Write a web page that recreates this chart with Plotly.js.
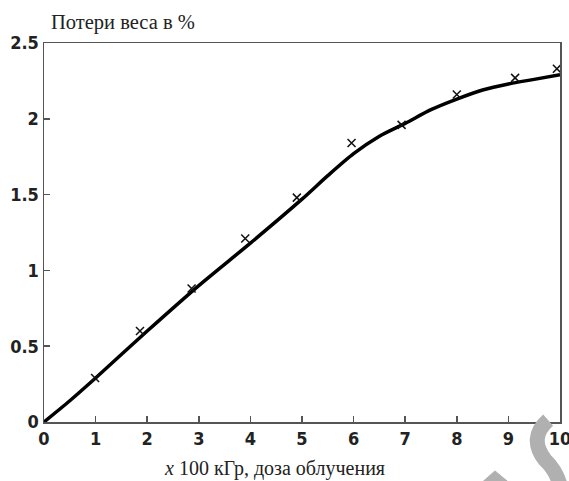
<!DOCTYPE html>
<html>
<head>
<meta charset="utf-8">
<script src="https://cdn.plot.ly/plotly-3.0.1.min.js"></script>
<style>html,body{margin:0;padding:0;background:#fff;}#chart{width:569px;height:481px;}</style>
</head>
<body>
<div id="chart"></div>
<script>
// Measured points (x markers)
var doseMeasured = [0.99, 1.86, 2.86, 3.90, 4.90, 5.96, 6.93, 8.00, 9.13, 9.94];
var lossMeasured = [0.29, 0.60, 0.88, 1.21, 1.48, 1.84, 1.96, 2.16, 2.27, 2.33];
// Fitted curve
var doseCurve = [0, 0.5, 1, 2, 3, 4, 5, 5.5, 6, 6.5, 7, 7.5, 8, 8.5, 9, 9.5, 10];
var lossCurve = [0, 0.14, 0.29, 0.60, 0.90, 1.18, 1.47, 1.625, 1.77, 1.885, 1.97, 2.06, 2.13, 2.19, 2.23, 2.26, 2.29];
var xTicks = [0, 1, 2, 3, 4, 5, 6, 7, 8, 9, 10];
var yTicks = [0, 0.5, 1, 1.5, 2, 2.5];
var yTickLabels = ['0', '0.5', '1', '1.5', '2', '2.5'];
var yTitle = 'Потери веса в %';
var xTitle = '<i>x</i> 100 кГр, доза облучения';

var mono = {family: 'Liberation Sans Narrow, DejaVu Sans Condensed, DejaVu Sans Mono', size: 18, color: '#222', weight: 'bold'};
var serif = {family: 'Liberation Serif, Times New Roman, serif', size: 20.5, color: '#222'};
var serifX = {family: 'Liberation Serif, Times New Roman, serif', size: 20, color: '#222'};

var traces = [
  {x: doseCurve, y: lossCurve, mode: 'lines', type: 'scatter',
   line: {color: '#000', width: 3.5, shape: 'spline', smoothing: 0.8}, hoverinfo: 'skip', showlegend: false},
  {x: doseMeasured, y: lossMeasured, mode: 'markers', type: 'scatter',
   marker: {symbol: 'x-thin-open', size: 8, color: '#111', line: {color: '#111', width: 1.5}}, showlegend: false}
];

var layout = {
  width: 569, height: 481,
  margin: {l: 44, r: 9, t: 43, b: 59},
  paper_bgcolor: '#fff', plot_bgcolor: '#fff',
  showlegend: false,
  xaxis: {range: [0, 10], tickvals: xTicks, ticktext: xTicks.map(String),
    ticks: 'inside', ticklen: 6, tickcolor: '#555', tickwidth: 1.5,
    showline: true, linecolor: '#555', linewidth: 1.5, mirror: true,
    showgrid: false, zeroline: false, tickfont: mono, fixedrange: true,
    ticklabeloverflow: 'allow'},
  yaxis: {range: [0, 2.5], tickvals: yTicks, ticktext: yTickLabels,
    ticks: 'inside', ticklen: 6, tickcolor: '#555', tickwidth: 1.5,
    showline: true, linecolor: '#555', linewidth: 1.5, mirror: true,
    showgrid: false, zeroline: false, tickfont: mono, fixedrange: true,
    ticklabeloverflow: 'allow'},
  annotations: [
    {text: yTitle, xref: 'paper', yref: 'paper', x: 0.0097, y: 1.053,
     xanchor: 'left', yanchor: 'middle', showarrow: false, font: serif},
    {text: xTitle, xref: 'paper', yref: 'paper', x: 0.446, y: -0.124,
     xanchor: 'center', yanchor: 'middle', showarrow: false, font: serifX}
  ],
  shapes: [
    {type: 'path', xref: 'paper', yref: 'paper',
     path: 'M 0.977 0.005 Q 0.938 -0.042 0.971 -0.100 Q 0.992 -0.127 1.0 -0.166',
     line: {color: '#b0b0b0', width: 15}, layer: 'above'},
    {type: 'path', xref: 'paper', yref: 'paper',
     path: 'M 0.840 -0.17 L 0.874 -0.129 L 0.910 -0.17 Z',
     fillcolor: '#b0b0b0', line: {color: '#b0b0b0', width: 1}, layer: 'above'}
  ]
};

Plotly.newPlot('chart', traces, layout, {displayModeBar: false, staticPlot: true});
</script>
</body>
</html>
